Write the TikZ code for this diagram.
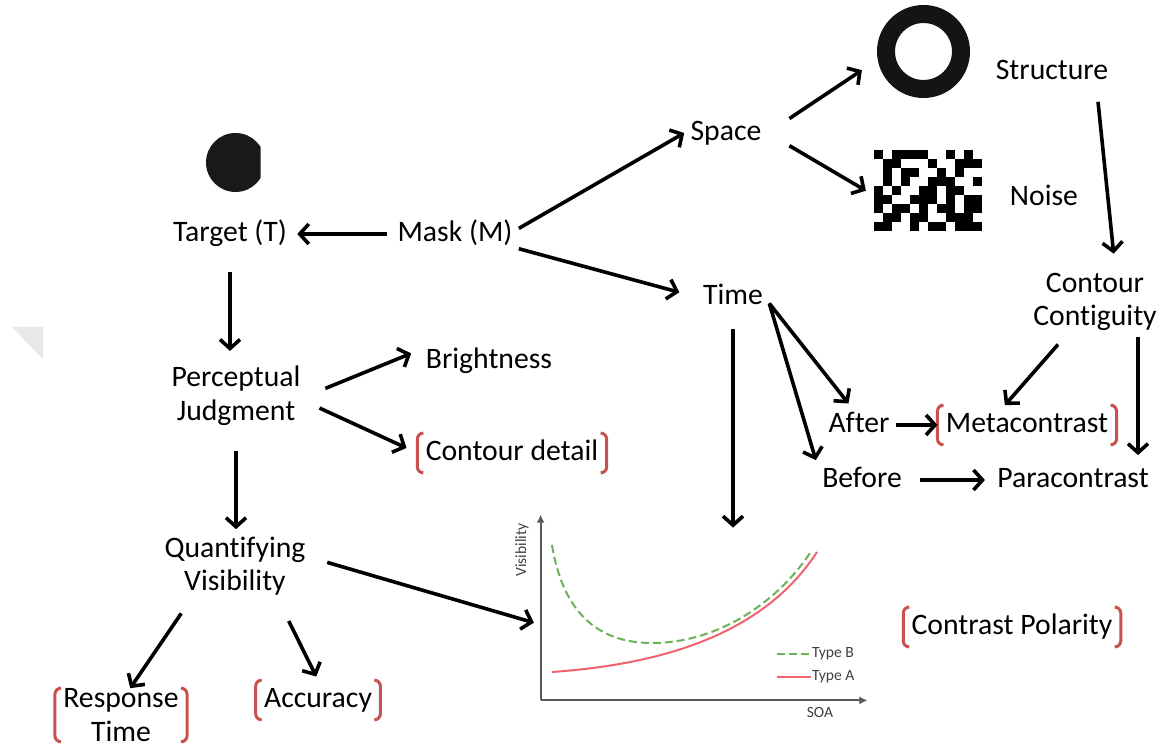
\documentclass[tikz,border=0pt]{standalone}
\usepackage{fontspec}
\setmainfont{Carlito}[Ligatures=NoCommon]
\usepackage{xcolor}
\usetikzlibrary{arrows.meta,positioning}

\definecolor{brkred}{RGB}{200,82,78}
\definecolor{typeb}{RGB}{106,178,86}
\definecolor{typea}{RGB}{240,98,110}

\begin{document}
\begin{tikzpicture}[x=0.5pt, y=-0.5pt,
		every node/.style={font=\fontsize{14.85}{16.8}\selectfont, inner sep=3pt},
		lbl/.style={text height=10.5pt, text depth=3pt},
		lbltwo/.style={align=center},
		brkd/.style={lbl, inner xsep=4pt},
		arr/.style={-{Straight Barb[length=4.5pt,width=10pt]}, line width=1.8pt},
		brk/.style={draw=brkred, line width=1.5pt, rounded corners=3pt},
		axis/.style={-{Latex[length=4pt,width=4pt]}, line width=1.1pt, draw=black!65},
		small/.style={font=\fontsize{7.8}{9}\selectfont, text=black!75, inner sep=0pt}]
		\useasboundingbox (0,0) rectangle (1162,747);

		% pictures
		\fill[black!9] (12,327) -- (43,327) -- (43,359) -- cycle;
		\begin{scope}
			\clip (200,125) rectangle (260.5,200);
			\fill[black!90] (235.5,162.5) circle (14.75pt);
		\end{scope}
		\node[circle, draw=black!92, line width=9pt, minimum size=37.5pt, inner sep=0pt] (ring) at (923.5,51.5) {};
		\node[minimum width=54pt, minimum height=40.5pt, inner sep=0pt] (noiseimg) at (928,190.5) {};
		\foreach \row [count=\r from 0] in {{1,0,1,1,1,1,0,0,1,0,1,0},{0,1,1,0,0,0,1,0,0,1,1,1},{0,1,0,1,1,0,0,1,0,1,0,0},{0,1,0,1,0,0,1,1,1,0,0,1},{1,0,1,0,0,1,1,0,1,1,0,0},{1,1,0,0,1,1,1,0,1,0,1,1},{1,0,1,1,0,1,0,1,1,0,1,1},{0,1,1,0,1,1,0,0,1,1,1,0},{1,1,0,0,1,0,1,1,0,1,1,1}}{
			\foreach \b [count=\c from 0] in \row {
				\ifnum\b=1 \fill ([shift={(\c*9,\r*9)}]noiseimg.north west) rectangle ++(9,9); \fi
			}
		}

		% labels
		\node[lbl] (target) at (230,234) {Target (T)};
		\node[lbl] (mask) at (455,234) {Mask (M)};
		\node[lbl] (space) at (726,133) {Space};
		\node[lbl] (time) at (733,297) {Time};
		\node[lbl] (structure) at (1052,72) {Structure};
		\node[lbl] (noise) at (1044,198) {Noise};
		\node[lbltwo] (contour) at (1095,302) {Contour\\Contiguity};
		\node[lbltwo] (perc) at (236,396) {Perceptual\\Judgment};
		\node[lbl] (bright) at (489,361) {Brightness};
		\node[brkd] (detail) at (512,453) {Contour detail};
		\node[lbltwo] (quant) at (235,566) {Quantifying\\Visibility};
		\node[lbltwo, inner xsep=4pt, inner ysep=0pt] (resp) at (121,715) {Response\\Time};
		\node[brkd] (acc) at (318,700) {Accuracy};
		\node[lbl] (after) at (859,425) {After};
		\node[brkd] (meta) at (1027,425) {Metacontrast};
		\node[lbl] (before) at (862,480) {Before};
		\node[lbl] (para) at (1073,480) {Paracontrast};
		\node[brkd] (polar) at (1012,627) {Contrast Polarity};

		\foreach \n in {detail,resp,acc,meta,polar} {
			\draw[brk] ([xshift=3pt]\n.north west) -- (\n.north west) -- (\n.south west) -- ([xshift=3pt]\n.south west);
			\draw[brk] ([xshift=-3pt]\n.north east) -- (\n.north east) -- (\n.south east) -- ([xshift=-3pt]\n.south east);
		}

		% graph
		\node[minimum width=163pt, minimum height=92.5pt, inner sep=0pt] (graph) at (704,607.5) {};
		\draw[axis] (graph.south west) -- (graph.north west);
		\draw[axis] (graph.south west) -- (graph.south east);
		\draw[typeb, dash pattern=on 4pt off 2pt, line width=1pt] (552,545) .. controls (565,625) and (610,643) .. (652,643) .. controls (720,643) and (780,600) .. (812,550);
		\draw[typea, line width=1pt] (552,672) .. controls (650,665) and (760,640) .. (817,552);
		\draw[typeb, dash pattern=on 4pt off 2pt, line width=1pt] (777,654) -- (811,654) node[small, anchor=west] (legb) {Type B};
		\draw[typea, line width=1pt] (777,677) -- (811,677) node[small, anchor=west] (lega) {Type A};
		\node[small] (soa) at (820,712) {SOA};
		\node[small, rotate=90] (vis) at (522,550) {Visibility};

		% arrows
		\draw[arr, shorten <=2pt, shorten >=2pt] (mask.west) -- (target.east);
		\draw[arr] (mask.5) -- (space.west);
		\draw[arr, shorten >=9pt] (mask.-13) -- (time.west);
		\draw[arr, shorten <=13pt, shorten >=9.5pt] (space.east) -- (ring.190);
		\draw[arr, shorten <=12.5pt, shorten >=4.5pt] (space.east) -- (noiseimg.185);
		\draw[arr, shorten <=5pt, shorten >=6.5pt] ([xshift=22.5pt]structure.south) -- ([xshift=10pt]contour.north);
		\draw[arr, shorten <=9pt, shorten >=4.5pt] (target.south) -- (target.south |- perc.north);
		\draw[arr, shorten <=10pt, shorten >=4.5pt] (perc.east) -- (bright.171);
		\draw[arr, shorten <=7pt, shorten >=6pt] (perc.-5) -- (detail.west);
		\draw[arr, shorten <=9.5pt, shorten >=0.5pt] (perc.south) -- (perc.south |- quant.north);
		\draw[arr, shorten <=8pt, shorten >=3.5pt] (quant.6) -- (graph.186);
		\draw[arr, shorten <=7pt] (quant.218) -- (resp.71);
		\draw[arr, shorten <=10.7pt, shorten >=2pt] (quant.-39) -- (acc.north);
		\draw[arr, shorten <=6pt, shorten >=-6.5pt] (time.south) -- (time.south |- graph.north);
		\draw[arr, shorten >=1pt] (time.-10) -- (after.115);
		\draw[arr] (time.-10) -- (before.north west);
		\draw[arr] (after.east) -- (meta.west);
		\draw[arr, shorten <=6pt, shorten >=3pt] (before.east) -- (para.west);
		\draw[arr, shorten <=4.7pt] (contour.229) -- (meta.138);
		\draw[arr, shorten >=2.5pt] ([xshift=21.5pt]contour.south) -- ([xshift=21.5pt]contour.south |- para.north);
	\end{tikzpicture}
\end{document}
